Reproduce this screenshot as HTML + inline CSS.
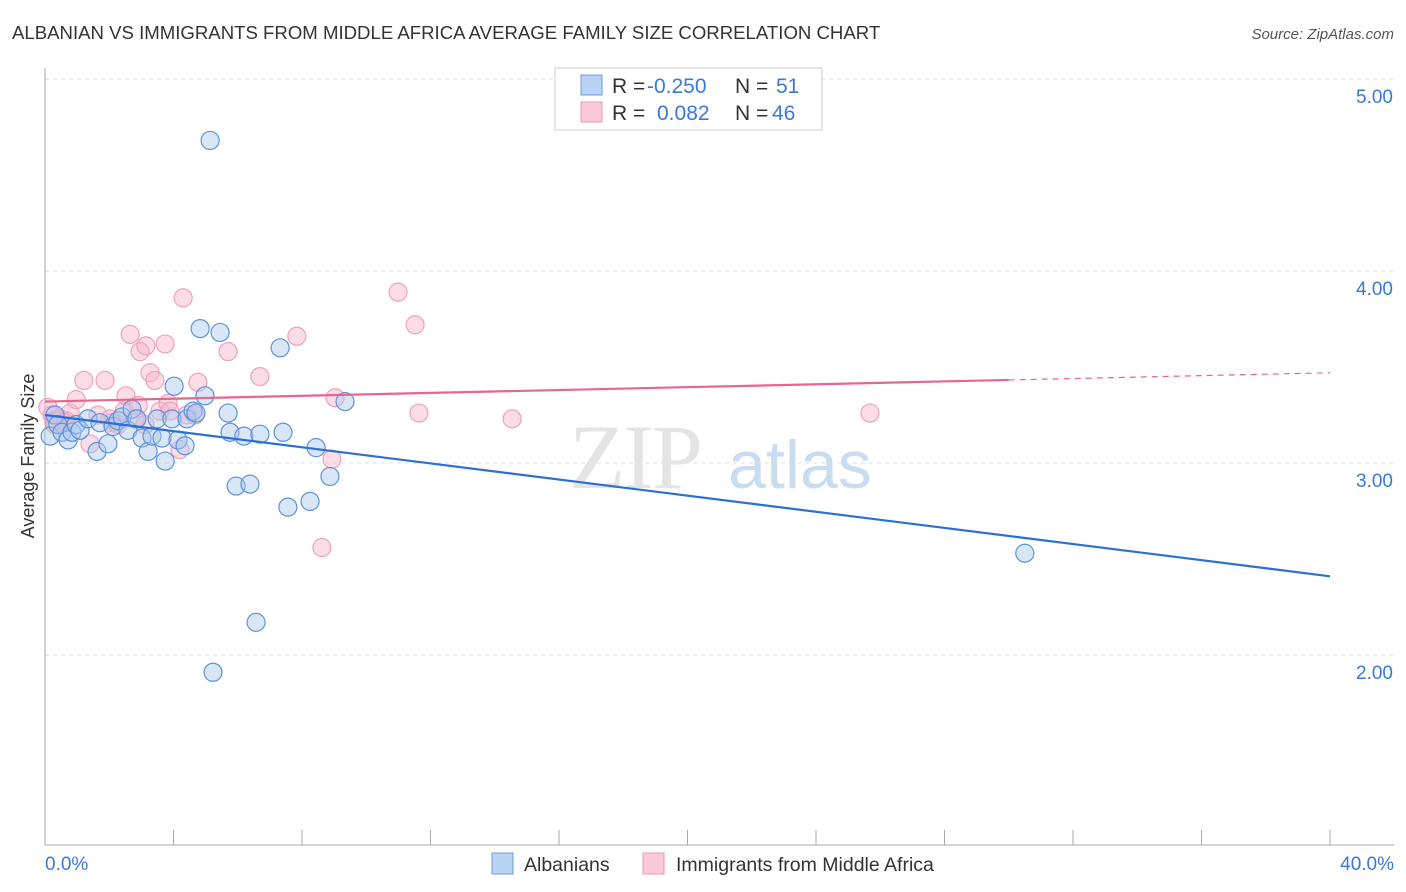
<!DOCTYPE html>
<html><head><meta charset="utf-8">
<style>
html,body{margin:0;padding:0;background:#fff;width:1406px;height:892px;overflow:hidden;font-family:"Liberation Sans",sans-serif}
</style></head>
<body>
<svg id="chart" width="1406" height="892" xmlns="http://www.w3.org/2000/svg">
<text x="12" y="39" font-size="18.6" fill="#333">ALBANIAN VS IMMIGRANTS FROM MIDDLE AFRICA AVERAGE FAMILY SIZE CORRELATION CHART</text>
<text x="1394" y="39" font-size="15" fill="#555" text-anchor="end" font-style="italic">Source: ZipAtlas.com</text>
<g id="grid"></g>
<g>
<text x="635" y="488" font-size="92" fill="#e4e4e4" text-anchor="middle" font-family="Liberation Serif, serif" letter-spacing="-2">ZIP</text>
<text x="800" y="488" font-size="68" fill="#c9dcf0" text-anchor="middle">atlas</text>
</g>
<g id="axes"></g>
<g id="points"></g>
<g id="trends"></g>
<text transform="translate(34,456) rotate(-90)" font-size="18" fill="#333" text-anchor="middle">Average Family Size</text>
<g>
<rect x="555" y="68" width="267" height="62" fill="#fff" stroke="#ccc"/>
<rect x="581" y="75" width="21" height="20" fill="#b9d3f5" stroke="#6a9de0"/>
<rect x="581" y="102" width="21" height="20" fill="#fac8d8" stroke="#ee9ab5"/>
<text x="612" y="93" font-size="21" fill="#333">R =</text>
<text x="647" y="93" font-size="21" fill="#3a78d8">-0.250</text>
<text x="735" y="93" font-size="21" fill="#333">N =</text>
<text x="776" y="93" font-size="21" fill="#3a78d8">51</text>
<text x="612" y="120" font-size="21" fill="#333">R =</text>
<text x="657" y="120" font-size="21" fill="#3a78d8">0.082</text>
<text x="735" y="120" font-size="21" fill="#333">N =</text>
<text x="772" y="120" font-size="21" fill="#3a78d8">46</text>
</g>
<g>
<rect x="492" y="853" width="21" height="21" fill="#b9d3f5" stroke="#6a9de0"/>
<text x="524" y="871" font-size="19.5" fill="#333">Albanians</text>
<rect x="643" y="853" width="21" height="21" fill="#fac8d8" stroke="#ee9ab5"/>
<text x="676" y="871" font-size="19.5" fill="#333">Immigrants from Middle Africa</text>
</g>
</svg>
<script>
const blueX=[0.16,0.31,0.40,0.53,0.72,0.84,0.97,1.09,1.34,1.62,1.71,1.96,2.12,2.27,2.40,2.58,2.71,2.86,3.02,3.21,3.33,3.49,3.64,3.74,3.95,4.02,4.14,4.36,4.42,4.61,4.70,4.83,4.98,5.14,5.23,5.45,5.70,5.76,5.95,6.19,6.38,6.57,6.69,7.32,7.41,7.56,8.25,8.44,8.87,9.34,30.5];
const blueY=[3.14,3.25,3.20,3.16,3.12,3.16,3.20,3.17,3.23,3.06,3.21,3.10,3.19,3.22,3.24,3.17,3.28,3.23,3.13,3.06,3.14,3.23,3.13,3.01,3.23,3.40,3.12,3.09,3.23,3.27,3.26,3.70,3.35,4.68,1.91,3.68,3.26,3.16,2.88,3.14,2.89,2.17,3.15,3.60,3.16,2.77,2.80,3.08,2.93,3.32,2.53];
const pinkX=[0.09,0.22,0.31,0.47,0.65,0.78,0.97,1.21,1.40,1.65,1.87,2.09,2.27,2.46,2.52,2.65,2.90,2.96,3.14,3.27,3.42,3.58,3.74,3.83,4.20,4.30,4.42,4.67,4.76,5.70,6.69,7.84,8.62,8.93,9.03,10.99,11.52,11.64,14.54,25.68,0.31,0.62,2.02,2.80,3.89,3.11];
const pinkY=[3.29,3.25,3.22,3.23,3.22,3.26,3.33,3.43,3.10,3.25,3.43,3.21,3.20,3.27,3.35,3.67,3.30,3.58,3.61,3.47,3.43,3.27,3.62,3.31,3.07,3.86,3.25,3.25,3.42,3.58,3.45,3.66,2.56,3.02,3.34,3.89,3.72,3.26,3.23,3.26,3.20,3.21,3.23,3.23,3.27,3.20];
const blueTrend=[3.25,2.41];
const pinkTrend=[3.32,3.47];
const pinkSolidEnd=30;
const yTicks=[2,3,4,5];
const yTickLabels=["2.00","3.00","4.00","5.00"];
const xTicks=[0,4,8,12,16,20,24,28,32,36,40];

const NS="http://www.w3.org/2000/svg";
const X0=45,X1=1330,XMAX=40;
function xs(v){return X0+(v/XMAX)*(X1-X0);}
function ys(v){return 79+(5-v)*192;}
function mk(tag,attrs,parent){const e=document.createElementNS(NS,tag);for(const k in attrs)e.setAttribute(k,attrs[k]);parent.appendChild(e);return e;}

const grid=document.getElementById('grid');
yTicks.forEach((t,i)=>{
  const l=mk('line',{x1:X0,x2:1394,y1:ys(t),y2:ys(t),stroke:'#ddd','stroke-dasharray':'4,4'},grid);
  
  
  const tx=mk('text',{x:1393,y:ys(t)+24,'font-size':19,fill:'#3a78d8','text-anchor':'end'},grid);
  tx.textContent=yTickLabels[i];
  
  
});
const axes=document.getElementById('axes');
let a=mk('line',{x1:X0,x2:X0,y1:68,y2:845,stroke:'#aaa'},axes);


a=mk('line',{x1:X0,x2:1394,y1:845,y2:845,stroke:'#aaa'},axes);


xTicks.forEach(t=>{
  const l=mk('line',{x1:xs(t),x2:xs(t),y1:830,y2:845,stroke:'#aaa'},axes);
  
  
});
let xl=mk('text',{x:45,y:870,'font-size':19,fill:'#3a78d8'},axes);
xl.textContent=xTicks[0].toFixed(1)+'%';


xl=mk('text',{x:1394,y:870,'font-size':19,fill:'#3a78d8','text-anchor':'end'},axes);
xl.textContent=xTicks[xTicks.length-1].toFixed(1)+'%';



const pts=document.getElementById('points');
pinkX.forEach((v,i)=>{
  const c=mk('circle',{cx:xs(v),cy:ys(pinkY[i]),r:9,fill:'rgba(248,180,202,0.45)',stroke:'#efa0ba','stroke-width':1.2},pts);
  
  
});
blueX.forEach((v,i)=>{
  const c=mk('circle',{cx:xs(v),cy:ys(blueY[i]),r:9,fill:'rgba(170,200,240,0.45)',stroke:'#5b93dc','stroke-width':1.2},pts);
  
  
});
const tr=document.getElementById('trends');
let t=mk('line',{x1:xs(0),y1:ys(blueTrend[0]),x2:xs(XMAX),y2:ys(blueTrend[1]),stroke:'#2a6fd6','stroke-width':2.2},tr);


const pm=v=>pinkTrend[0]+(pinkTrend[1]-pinkTrend[0])*v/XMAX;
t=mk('line',{x1:xs(0),y1:ys(pinkTrend[0]),x2:xs(pinkSolidEnd),y2:ys(pm(pinkSolidEnd)),stroke:'#e8668e','stroke-width':2.2},tr);


t=mk('line',{x1:xs(pinkSolidEnd),y1:ys(pm(pinkSolidEnd)),x2:xs(XMAX),y2:ys(pinkTrend[1]),stroke:'#e8668e','stroke-width':1.2,'stroke-dasharray':'6,5'},tr);


</script>
</body></html>
